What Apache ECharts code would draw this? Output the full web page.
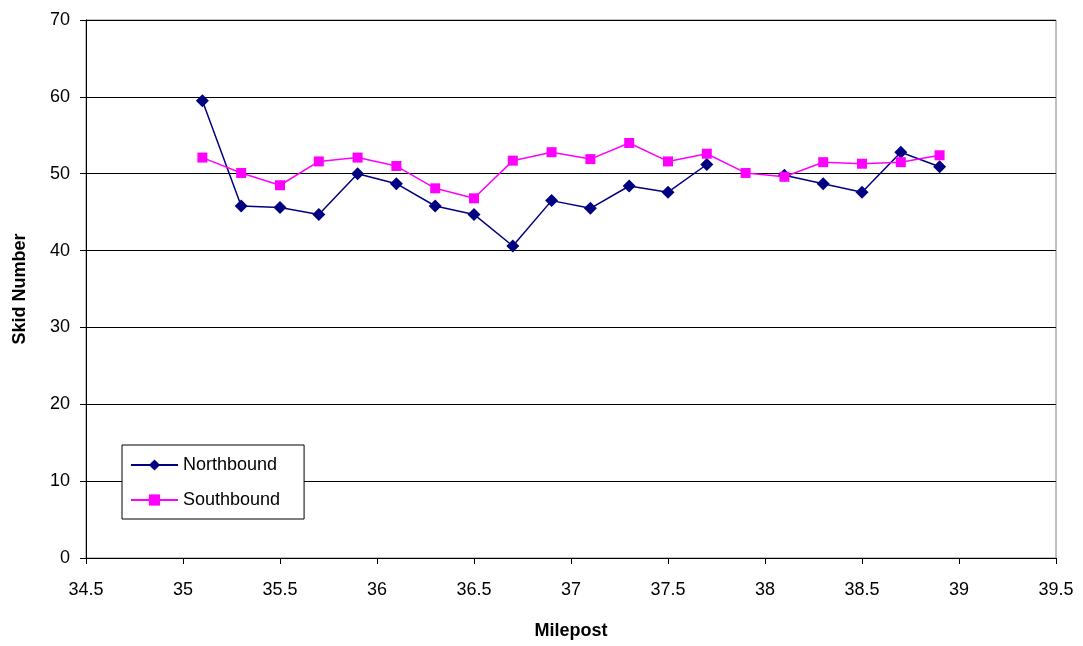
<!DOCTYPE html>
<html>
<head>
<meta charset="utf-8">
<script src="https://cdn.jsdelivr.net/npm/echarts@6/dist/echarts.min.js"></script>
<style>
html,body{margin:0;padding:0;background:#fff;}
#chart{width:1083px;height:646px;}
</style>
</head>
<body>
<div id="chart"></div>
<script>
const mileposts = [35.1,35.3,35.5,35.7,35.9,36.1,36.3,36.5,36.7,36.9,37.1,37.3,37.5,37.7,37.9,38.1,38.3,38.5,38.7,38.9];
const northbound = [59.5,45.8,45.6,44.7,50.0,48.7,45.8,44.7,40.6,46.5,45.5,48.4,47.6,51.2,null,49.8,48.7,47.6,52.8,50.9];
const southbound = [52.1,50.1,48.5,51.6,52.1,51.0,48.1,46.8,51.7,52.8,51.9,54.0,51.6,52.6,50.1,49.6,51.5,51.3,51.5,52.4];
const seriesNames = ['Northbound','Southbound'];
const xAxisTitle = 'Milepost';
const yAxisTitle = 'Skid Number';

const pair = (xs, ys) => xs.map((x, i) => [x, ys[i]]);
const font = 'Liberation Sans, Arial, sans-serif';

const chart = echarts.init(document.getElementById('chart'), null, {renderer:'canvas'});
chart.setOption({
  animation: false,
  backgroundColor: '#fff',
  grid: {left: 86, right: 27, top: 20, bottom: 88, show: true, borderColor: '#808080', borderWidth: 1},
  xAxis: {
    type: 'value', min: 34.5, max: 39.5, interval: 0.5,
    name: xAxisTitle, nameLocation: 'middle', nameGap: 64,
    nameTextStyle: {fontFamily: font, fontSize: 18, fontWeight: 'bold', color: '#000'},
    axisLine: {show: true, onZero: false, lineStyle: {color: '#000', width: 1}},
    axisTick: {show: true, inside: false, length: 6, lineStyle: {color: '#000'}},
    axisLabel: {fontFamily: font, fontSize: 18, color: '#000', margin: 23},
    splitLine: {show: false}
  },
  yAxis: {
    type: 'value', min: 0, max: 70, interval: 10,
    name: yAxisTitle, nameLocation: 'middle', nameGap: 57, nameRotate: 90,
    nameTextStyle: {fontFamily: font, fontSize: 18, fontWeight: 'bold', color: '#000'},
    axisLine: {show: true, lineStyle: {color: '#000', width: 1}},
    axisTick: {show: true, inside: false, length: 6, lineStyle: {color: '#000'}},
    axisLabel: {fontFamily: font, fontSize: 18, color: '#000', margin: 16},
    splitLine: {show: true, lineStyle: {color: '#000', width: 1}}
  },
  legend: {
    show: true, orient: 'vertical', left: 122, top: 445,
    backgroundColor: '#fff', borderColor: '#000', borderWidth: 1,
    padding: [11, 24, 10, 8], itemGap: 17, itemWidth: 47, itemHeight: 14,
    textStyle: {fontFamily: font, fontSize: 18, color: '#000', padding: [0,0,0,0]},
    data: seriesNames
  },
  series: [
    {
      name: seriesNames[0], type: 'line', data: pair(mileposts, northbound),
      connectNulls: false,
      symbol: 'diamond', symbolSize: 13, showAllSymbol: true,
      lineStyle: {color: '#000080', width: 1.5},
      itemStyle: {color: '#000080', borderWidth: 0},
      z: 2
    },
    {
      name: seriesNames[1], type: 'line', data: pair(mileposts, southbound),
      symbol: 'rect', symbolSize: 10, showAllSymbol: true,
      lineStyle: {color: '#FF00FF', width: 1.5},
      itemStyle: {color: '#FF00FF', borderWidth: 0},
      z: 3
    }
  ]
});
</script>
</body>
</html>
